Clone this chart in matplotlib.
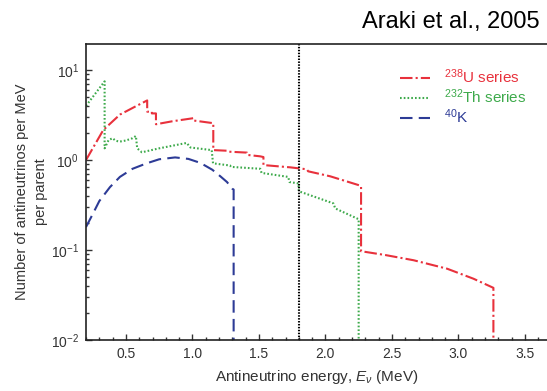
import matplotlib
matplotlib.use("Agg")
import matplotlib.pyplot as plt
from matplotlib.ticker import LogLocator, MultipleLocator, NullFormatter

plt.rcParams['font.family'] = ['Liberation Sans', 'DejaVu Sans']
plt.rcParams['mathtext.fontset'] = 'custom'
plt.rcParams['mathtext.rm'] = 'Liberation Sans'
plt.rcParams['mathtext.it'] = 'Liberation Sans:italic'
plt.rcParams['mathtext.default'] = 'regular'

# ---- data ----
u_energy = [0.20, 0.33, 0.455, 0.57, 0.66, 0.66, 0.695, 0.695, 0.726, 0.726, 0.85, 1.007, 1.01,
            1.157, 1.157, 1.26, 1.27, 1.41, 1.415, 1.51, 1.534, 1.534, 1.735, 1.86, 1.87, 2.036,
            2.262, 2.268, 2.268, 2.45, 2.663, 2.915, 3.113, 3.263, 3.263]
u_value = [1.0, 2.16, 3.2, 3.93, 4.6, 3.45, 3.45, 3.3, 3.3, 2.5, 2.7, 2.92, 2.75,
           2.57, 1.29, 1.27, 1.24, 1.21, 1.14, 1.10, 1.08, 0.88, 0.83, 0.79, 0.75, 0.66,
           0.52, 0.51, 0.097, 0.088, 0.077, 0.062, 0.048, 0.038, 0.001]

th_energy = [0.20, 0.34, 0.34, 0.37, 0.40, 0.42, 0.45, 0.50, 0.55, 0.575, 0.585, 0.62, 0.75, 0.957,
             0.985, 1.145, 1.155, 1.283, 1.29, 1.51, 1.52, 1.72, 1.73, 1.797, 1.80, 2.06, 2.074,
             2.25, 2.25]
th_value = [4.0, 7.5, 1.35, 1.67, 1.75, 1.65, 1.6, 1.65, 1.75, 1.85, 1.35, 1.22, 1.35, 1.55,
            1.38, 1.29, 0.92, 0.87, 0.84, 0.80, 0.72, 0.65, 0.57, 0.55, 0.45, 0.33, 0.29,
            0.22, 0.001]

k_energy = [0.20, 0.25, 0.30, 0.38, 0.455, 0.55, 0.656, 0.75, 0.87, 0.97, 1.06, 1.15, 1.21,
            1.26, 1.30, 1.31, 1.31]
k_value = [0.18, 0.25, 0.35, 0.50, 0.65, 0.80, 0.92, 1.02, 1.07, 1.03, 0.93, 0.78, 0.66,
           0.57, 0.48, 0.47, 0.001]

threshold = 1.8
labels = ['$^{238}$U series', '$^{232}$Th series', '$^{40}$K']
colors = ['#e8313c', '#3daa4b', '#2d3b96']

fig = plt.figure(figsize=(5.47, 3.91), dpi=100)
ax = fig.add_axes([86/547, 1-340/391, 1-86/547, (340-44)/391])

ax.plot(u_energy, u_value, color=colors[0], lw=1.5, dashes=[6, 1.5, 1, 1.5], label=labels[0])
ax.plot(th_energy, th_value, color=colors[1], lw=1.5, dashes=[0.8, 1.0], label=labels[1])
ax.plot(k_energy, k_value, color=colors[2], lw=1.5, dashes=[6, 3], label=labels[2])
ax.axvline(threshold, color='black', lw=1.5, dashes=[0.7, 0.7])

ax.set_yscale('log')
ax.set_xlim(0.2, 3.666)
ax.set_ylim(0.01, 19.5)
ax.xaxis.set_major_locator(MultipleLocator(0.5))
ax.xaxis.set_minor_locator(MultipleLocator(0.1))
ax.yaxis.set_major_locator(LogLocator(base=10, numticks=10))
ax.yaxis.set_minor_locator(LogLocator(base=10, subs=range(2, 10), numticks=20))
ax.yaxis.set_minor_formatter(NullFormatter())
ax.set_xticks([0.5, 1.0, 1.5, 2.0, 2.5, 3.0, 3.5])
ax.set_xticklabels(['0.5', '1.0', '1.5', '2.0', '2.5', '3.0', '3.5'])

ax.tick_params(which='both', direction='in', colors='#333333', labelsize=10, width=1.0)
ax.tick_params(which='major', length=4.5, pad=5)
ax.tick_params(which='minor', length=2.5)
for s in ['left', 'bottom', 'top']:
    ax.spines[s].set_linewidth(1.2)
    ax.spines[s].set_color('#222222')
ax.spines['right'].set_visible(False)

ax.set_xlabel('Antineutrino energy, $\\mathit{E_\\nu}$ (MeV)', fontsize=11, color='#333333', labelpad=5)
ax.set_ylabel('Number of antineutrinos per MeV\nper parent', fontsize=10.5, color='#333333',
              linespacing=1.5, labelpad=2)

leg = ax.legend(loc='upper left', bbox_to_anchor=(392/547, 1-60/391), bbox_transform=fig.transFigure,
                frameon=False, fontsize=11, handlelength=2.0, handletextpad=0.9, labelspacing=0.08,
                borderpad=0, labelcolor='linecolor')

fig.text(540/547, 1-22/391, 'Araki et al., 2005', ha='right', va='center', fontsize=17, color='black')

fig.savefig('out.png', dpi=100)
